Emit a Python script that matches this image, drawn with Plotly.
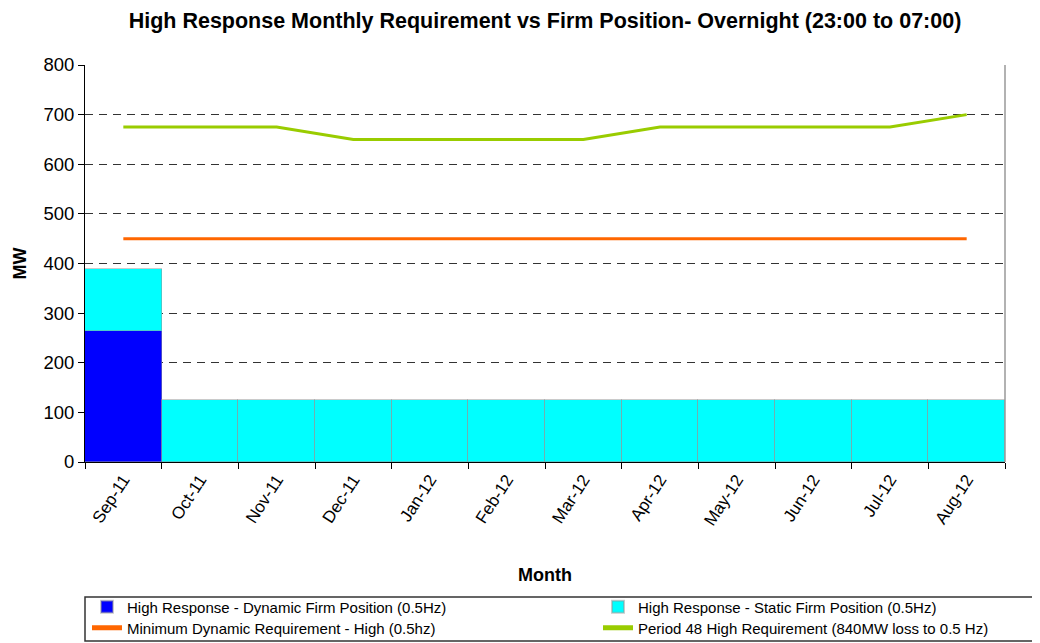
import plotly.graph_objects as go

months = ["Sep-11", "Oct-11", "Nov-11", "Dec-11", "Jan-12", "Feb-12", "Mar-12",
          "Apr-12", "May-12", "Jun-12", "Jul-12", "Aug-12"]
dynamic = [263, 0, 0, 0, 0, 0, 0, 0, 0, 0, 0, 0]
static = [126, 125, 125, 125, 125, 125, 125, 125, 125, 125, 125, 125]
min_dynamic = [450] * 12
period48 = [675, 675, 675, 650, 650, 650, 650, 675, 675, 675, 675, 700]

FONT = "Liberation Sans, Arial, sans-serif"
fig = go.Figure()
fig.add_bar(x=months, y=dynamic, name="High Response - Dynamic Firm Position (0.5Hz)",
            marker=dict(color="#0000FF", line=dict(color="rgba(150,150,150,0.5)", width=1)),
            legend="legend")
fig.add_bar(x=months, y=static, name="High Response - Static Firm Position (0.5Hz)",
            marker=dict(color="#00FFFF", line=dict(color="rgba(150,150,150,0.5)", width=1)),
            legend="legend2")
fig.add_scatter(x=months, y=min_dynamic, mode="lines", name="Minimum Dynamic Requirement - High (0.5hz)",
                line=dict(color="#FF6600", width=3), legend="legend3")
fig.add_scatter(x=months, y=period48, mode="lines", name="Period 48 High Requirement (840MW loss to 0.5 Hz)",
                line=dict(color="#99CC00", width=3), legend="legend4")

# page body has an 8px offset; figure is sized so it fits the 1040x643 window
W, H = 1032, 635
L, T, PW, PH = 77, 57, 920, 397


def py(Y):  # reference pixel y -> paper y
    return (462 - Y) / PH


def px(X):  # reference pixel x -> paper x
    return (X - 85) / PW


leg_common = dict(orientation="v", yanchor="middle", xanchor="left",
                  bgcolor="rgba(0,0,0,0)", borderwidth=0,
                  font=dict(size=15, family=FONT), itemsizing="constant")

fig.update_layout(
    barmode="stack", bargap=0,
    width=W, height=H,
    margin=dict(l=L, r=W - L - PW, t=T, b=H - T - PH, autoexpand=False),
    paper_bgcolor="white", plot_bgcolor="white",
    font=dict(family=FONT, color="black"),
    title=dict(text="<b>High Response Monthly Requirement vs Firm Position- Overnight (23:00 to 07:00)</b>",
               x=(545 - 8) / W, xanchor="center", y=1 - 12 / H, yanchor="middle",
               font=dict(size=21.5, family=FONT)),
    xaxis=dict(title=dict(text="<b>Month</b>", font=dict(size=18), standoff=40),
               tickangle=-57, tickfont=dict(size=17), tickson="boundaries",
               ticks="outside", ticklen=6, tickcolor="black",
               showline=True, linecolor="black", linewidth=1, showgrid=False),
    yaxis=dict(title=dict(text="<b>MW</b>", font=dict(size=18), standoff=12),
               range=[0, 800], dtick=100, tickfont=dict(size=18.5),
               ticks="outside", ticklen=6, tickcolor="black",
               showline=True, linecolor="black", linewidth=1,
               showgrid=True, gridcolor="#333333", griddash="8px,6px", gridwidth=1,
               zeroline=False),
    legend=dict(x=px(87), y=py(607), **leg_common),
    legend2=dict(x=px(598), y=py(607), **leg_common),
    legend3=dict(x=px(87), y=py(628), **leg_common),
    legend4=dict(x=px(598), y=py(628), **leg_common),
    showlegend=True,
)
fig.add_shape(type="line", xref="paper", yref="paper", x0=1, x1=1, y0=0, y1=1,
              line=dict(color="#999999", width=1.5))
fig.add_shape(type="rect", xref="paper", yref="paper",
              x0=0, x1=px(1035), y0=py(641), y1=py(597),
              line=dict(color="#333333", width=1.5), fillcolor="rgba(0,0,0,0)")

fig.write_html("out.html")
